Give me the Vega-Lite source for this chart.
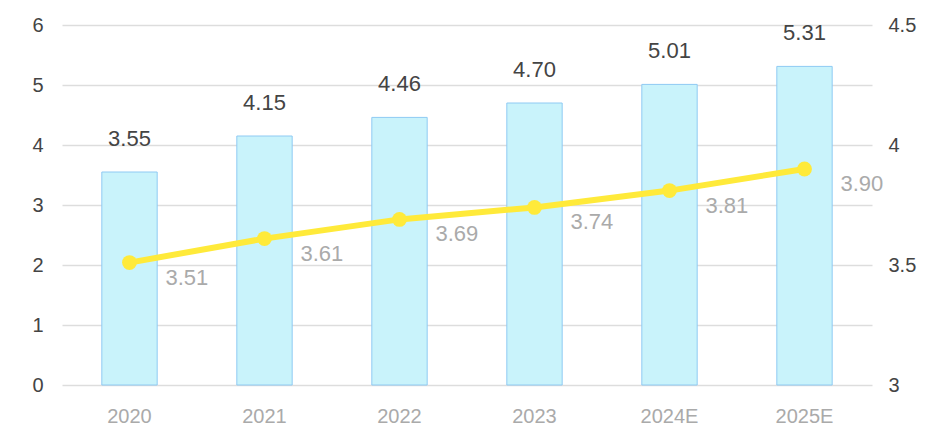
{
  "$schema": "https://vega.github.io/schema/vega-lite/v6.json",
  "autosize": {"type": "none"},
  "width": 810,
  "height": 360,
  "padding": {"left": 62, "top": 25, "right": 53, "bottom": 56},
  "background": "white",
  "config": {"view": {"stroke": null}, "font": "Liberation Sans"},
  "data": {"values": [
    {"year": "2020", "bar": 3.55, "line": 3.51},
    {"year": "2021", "bar": 4.15, "line": 3.61},
    {"year": "2022", "bar": 4.46, "line": 3.69},
    {"year": "2023", "bar": 4.70, "line": 3.74},
    {"year": "2024E", "bar": 5.01, "line": 3.81},
    {"year": "2025E", "bar": 5.31, "line": 3.90}
  ]},
  "encoding": {
    "x": {"field": "year", "type": "ordinal", "sort": null,
      "scale": {"paddingInner": 0.59, "paddingOuter": 0.295},
      "axis": {"title": null, "labelAngle": 0, "domain": false, "ticks": false, "labelPadding": 21, "labelFontSize": 20, "labelColor": "#aaaaaa"}}
  },
  "layer": [
    {
      "encoding": {
        "y": {"field": "bar", "type": "quantitative", "scale": {"domain": [0, 6]},
          "axis": {"title": null, "values": [0,1,2,3,4,5,6], "domain": false, "ticks": false, "labelPadding": 19, "labelFontSize": 20, "labelColor": "#444444", "gridColor": "#dddddd", "gridWidth": 1.5}}
      },
      "layer": [
        {
          "mark": {"type": "bar", "fill": "#c9f3fb", "stroke": "#8fcaf3", "strokeWidth": 1}
        },
        {
          "mark": {"type": "text", "dy": -33, "fontSize": 22, "color": "#444444"},
          "encoding": {
            "text": {"field": "bar", "type": "quantitative", "format": ".2f"}
          }
        }
      ]
    },
    {
      "encoding": {
        "y": {"field": "line", "type": "quantitative", "scale": {"domain": [3, 4.5]},
          "axis": {"title": null, "orient": "right", "values": [3, 3.5, 4, 4.5], "format": "~g", "grid": false, "domain": false, "ticks": false, "labelPadding": 16, "labelFontSize": 20, "labelColor": "#444444"}}
      },
      "layer": [
        {
          "mark": {"type": "line", "color": "#ffea3a", "strokeWidth": 6, "point": {"filled": true, "size": 220, "color": "#ffea3a"}}
        },
        {
          "mark": {"type": "text", "align": "left", "dx": 36, "dy": 15, "fontSize": 22, "color": "#aaaaaa"},
          "encoding": {
            "text": {"field": "line", "type": "quantitative", "format": ".2f"}
          }
        }
      ]
    }
  ],
  "resolve": {"scale": {"y": "independent"}}
}
